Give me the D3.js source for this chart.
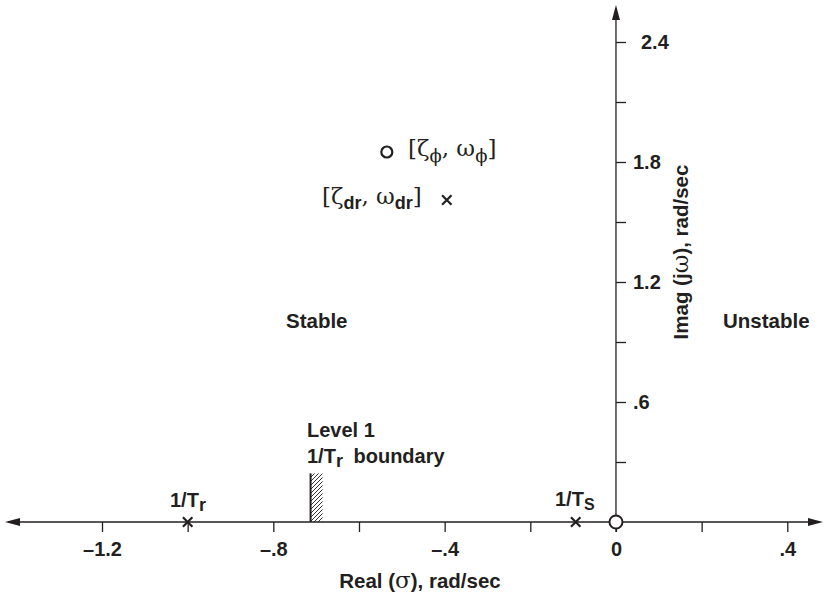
<!DOCTYPE html>
<html>
<head>
<meta charset="utf-8">
<script src="https://cdn.jsdelivr.net/npm/d3@7"></script>
<style>
  body { margin: 0; background: #fff; }
  svg text { font-family: "Liberation Sans", Arial, sans-serif; font-weight: bold; fill: #231f20; }
  .greek { font-family: "DejaVu Serif", "Liberation Serif", serif; font-weight: normal; }
</style>
</head>
<body>
<div id="chart"></div>
<script>
// axis ticks (real axis: sigma, imaginary axis: j omega)
const realTicks = [-1.2, -1.0, -0.8, -0.6, -0.4, -0.2, 0, 0.2, 0.4];
const realLabels = {"-1.2": "\u20131.2", "-0.8": "\u2013.8", "-0.4": "\u2013.4", "0": "0", "0.4": ".4"};
const imagTicks = [0.3, 0.6, 0.9, 1.2, 1.5, 1.8, 2.1, 2.4];
const imagLabels = {"0.6": ".6", "1.2": "1.2", "1.8": "1.8", "2.4": "2.4"};

// roots on the s-plane
const poles = [
  {re: -1.0, im: 0},      // 1/Tr
  {re: -0.094, im: 0},    // 1/Ts
  {re: -0.395, im: 1.61}  // dutch roll
];
const zeros = [
  {re: -0.535, im: 1.85}  // zeta_phi, omega_phi
];
const boundaryRe = -0.713;
const boundaryTop = 0.243;

const width = 824, height = 595;
const svg = d3.select("#chart").append("svg")
  .attr("width", width).attr("height", height);

const x = d3.scaleLinear().domain([-1.2, 0.4]).range([102, 787.3]);
const y = d3.scaleLinear().domain([0, 2.4]).range([522, 42]);
const ink = "#231f20";

const defs = svg.append("defs");
defs.append("pattern")
  .attr("id", "hatch")
  .attr("patternUnits", "userSpaceOnUse")
  .attr("width", 4).attr("height", 4)
  .append("path")
  .attr("d", "M-1,1 l2,-2 M0,4 l4,-4 M3,5 l2,-2")
  .attr("stroke", ink).attr("stroke-width", 0.9);

// axis lines with arrow heads
svg.append("line")
  .attr("x1", 8).attr("x2", 820)
  .attr("y1", y(0)).attr("y2", y(0))
  .attr("stroke", ink).attr("stroke-width", 1.3);
svg.append("line")
  .attr("x1", x(0)).attr("x2", x(0))
  .attr("y1", y(0) + 10).attr("y2", 8)
  .attr("stroke", ink).attr("stroke-width", 1.3);

const arrows = [
  [[5, y(0)], [20, y(0) - 4], [20, y(0) + 4]],
  [[823, y(0)], [808, y(0) - 4], [808, y(0) + 4]],
  [[x(0), 5], [x(0) - 4, 20], [x(0) + 4, 20]]
];
svg.selectAll("path.arrow").data(arrows).enter().append("path")
  .attr("class", "arrow")
  .attr("d", d => "M" + d.join("L") + "Z")
  .attr("fill", ink);

// real axis ticks
const xAxis = svg.append("g")
  .attr("transform", `translate(0,${y(0)})`)
  .call(d3.axisBottom(x).tickValues(realTicks).tickSize(10).tickPadding(10)
    .tickFormat(d => realLabels[String(d)] || ""));
xAxis.select(".domain").remove();
xAxis.selectAll("line").attr("stroke", ink).attr("stroke-width", 1.3);
xAxis.selectAll("text").attr("font-size", 20).attr("font-family", null).attr("fill", ink);

// imaginary axis ticks
const yAxis = svg.append("g")
  .attr("transform", `translate(${x(0)},0)`)
  .call(d3.axisRight(y).tickValues(imagTicks).tickSize(10).tickPadding(7)
    .tickFormat(d => imagLabels[String(d)] || ""));
yAxis.select(".domain").remove();
yAxis.selectAll("line").attr("stroke", ink).attr("stroke-width", 1.3);
yAxis.selectAll("text").attr("font-size", 20).attr("font-family", null).attr("fill", ink)
  .attr("x", d => d === 2.4 ? 25 : 17);

// hatched level 1 boundary
svg.append("rect")
  .attr("x", x(boundaryRe)).attr("y", y(boundaryTop))
  .attr("width", 12).attr("height", y(0) - y(boundaryTop))
  .attr("fill", "url(#hatch)");
svg.append("line")
  .attr("x1", x(boundaryRe)).attr("x2", x(boundaryRe))
  .attr("y1", y(boundaryTop)).attr("y2", y(0))
  .attr("stroke", ink).attr("stroke-width", 2);

// poles as crosses
const cross = d3.symbol().type(d3.symbolX).size(60);
svg.selectAll("path.pole").data(poles).enter().append("path")
  .attr("class", "pole")
  .attr("transform", d => `translate(${x(d.re)},${y(d.im)})`)
  .attr("d", cross)
  .attr("fill", "none").attr("stroke", ink).attr("stroke-width", 2.2);

// zeros as open circles
svg.selectAll("circle.zero").data(zeros).enter().append("circle")
  .attr("class", "zero")
  .attr("cx", d => x(d.re)).attr("cy", d => y(d.im))
  .attr("r", 5.5)
  .attr("fill", "#fff").attr("stroke", ink).attr("stroke-width", 2.2);
svg.append("circle")
  .attr("cx", x(0)).attr("cy", y(0)).attr("r", 6.5)
  .attr("fill", "#fff").attr("stroke", ink).attr("stroke-width", 2);

// labels
function label(xp, yp, parts, size) {
  const t = svg.append("text").attr("x", xp).attr("y", yp).attr("font-size", size || 20);
  parts.forEach(p => {
    const s = t.append("tspan").text(p.t);
    if (p.cls) s.attr("class", p.cls);
    if (p.dy) s.attr("dy", p.dy);
    if (p.dx) s.attr("dx", p.dx);
    if (p.fs) s.attr("font-size", p.fs);
  });
  return t;
}

label(307, 437, [{t: "Level 1"}]);
label(307, 463, [{t: "1/T"}, {t: "r", dy: 4, fs: 18}, {t: " boundary", dy: -4, dx: 5}]);
label(170, 507, [{t: "1/T"}, {t: "r", dy: 4, fs: 18}]);
label(555, 506, [{t: "1/T"}, {t: "S", dy: 4, fs: 16}]);
label(286, 328, [{t: "Stable"}], 20.5);
label(723, 328, [{t: "Unstable"}], 20.5);

label(408, 156, [
  {t: "[\u03b6", cls: "greek"}, {t: "\u03d5", cls: "greek", dy: 6, fs: 18},
  {t: ", \u03c9", cls: "greek", dy: -6}, {t: "\u03d5", cls: "greek", dy: 6, fs: 18},
  {t: "]", cls: "greek", dy: -6}
], 23);
label(322, 204, [
  {t: "[\u03b6", cls: "greek"}, {t: "dr", dy: 5, fs: 18},
  {t: ", \u03c9", cls: "greek", dy: -5}, {t: "dr", dy: 5, fs: 18},
  {t: "]", cls: "greek", dy: -5}
], 23);

// axis titles
label(420, 588, [{t: "Real ("}, {t: "\u03c3", cls: "greek", fs: 23}, {t: "), rad/sec"}], 20.5)
  .attr("text-anchor", "middle");
label(0, 0, [{t: "Imag (j"}, {t: "\u03c9", cls: "greek", fs: 23}, {t: "), rad/sec"}], 20.5)
  .attr("text-anchor", "middle")
  .attr("transform", "translate(688,252) rotate(-90)");
</script>
</body>
</html>
